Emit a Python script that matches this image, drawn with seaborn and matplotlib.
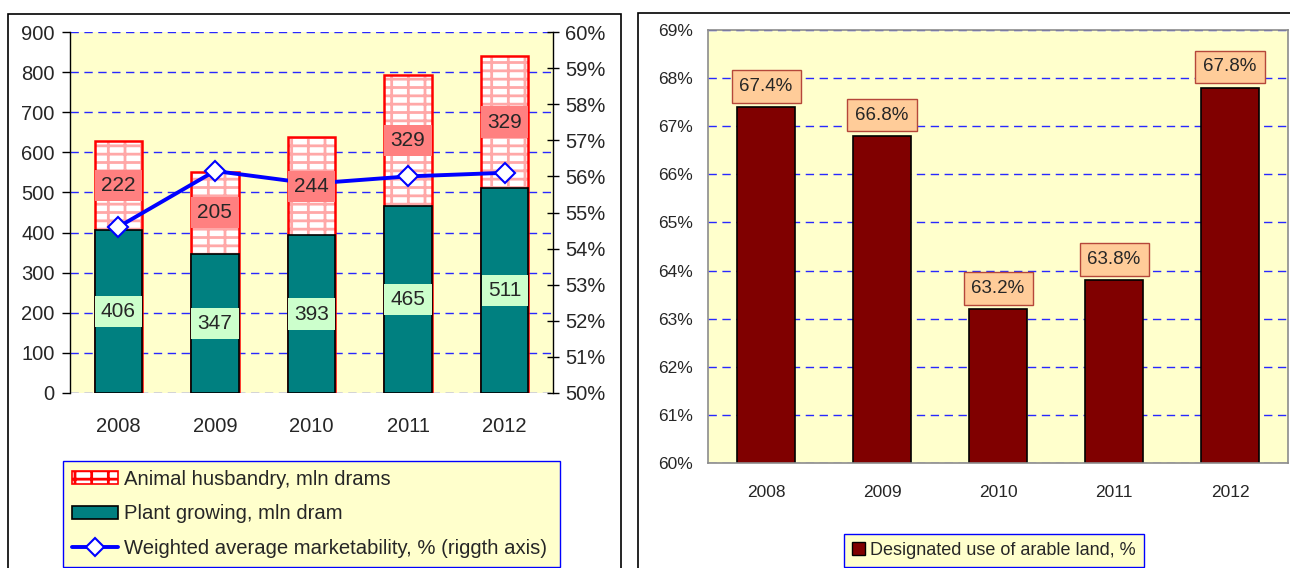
import numpy as np
import pandas as pd
import matplotlib
matplotlib.use('Agg')
import matplotlib.pyplot as plt
import seaborn as sns
from matplotlib.patches import Patch, Rectangle
from matplotlib.lines import Line2D

# ---------------- data ----------------
years = ['2008', '2009', '2010', '2011', '2012']
plant = [406, 347, 393, 465, 511]          # Plant growing, mln dram
animal = [222, 205, 244, 329, 329]         # Animal husbandry, mln drams
market = [54.6, 56.15, 55.8, 56.0, 56.1]   # Weighted average marketability, %
arable = [67.4, 66.8, 63.2, 63.8, 67.8]    # Designated use of arable land, %
left_ticks = [0, 100, 200, 300, 400, 500, 600, 700, 800, 900]
right_ticks = [50, 51, 52, 53, 54, 55, 56, 57, 58, 59, 60]
arable_ticks = [60, 61, 62, 63, 64, 65, 66, 67, 68, 69]

sns.set_theme(style='white')
plt.rcParams['font.family'] = ['Liberation Sans', 'DejaVu Sans']
plt.rcParams['hatch.linewidth'] = 2.0
plt.rcParams['hatch.color'] = '#FFA8A8'

W, H = 1290, 568
fig = plt.figure(figsize=(W / 100, H / 100), dpi=100)
fig.patch.set_facecolor('white')

# panel frames
fig.add_artist(Rectangle((8 / W, -0.02), 613 / W, (H - 14) / H + 0.02,
                         transform=fig.transFigure, fill=False, edgecolor='black', lw=1.2))
fig.add_artist(Rectangle((638 / W, -0.02), 0.7, (H - 13) / H + 0.02,
                         transform=fig.transFigure, fill=False, edgecolor='black', lw=1.2))

df = pd.DataFrame({'year': years, 'plant': plant, 'animal': animal, 'market': market})
df['total'] = df['plant'] + df['animal']

FL = 14.5   # left panel font size
FR = 12.5   # right panel font size

# ---------------- left chart ----------------
ax = fig.add_axes([70 / W, (H - 393) / H, 483 / W, 361 / H])
ax.set_facecolor('#FFFFCC')
bw = 0.49
sns.barplot(data=df, x='year', y='total', color='white', saturation=1, width=bw,
            hatch='+-', edgecolor='#FFA8A8', linewidth=0, ax=ax, zorder=2)
sns.barplot(data=df, x='year', y='total', color='#FF0000', fill=False, saturation=1,
            width=bw, linewidth=1.8, ax=ax, zorder=2)
sns.barplot(data=df, x='year', y='plant', color='#008080', saturation=1, width=bw,
            edgecolor='black', linewidth=1.2, ax=ax, zorder=3)
ax.set_ylim(0, 900)
ax.set_xlim(-0.5, len(years) - 0.5)
ax.set_yticks(left_ticks)
ax.set_yticklabels([str(t) for t in left_ticks], fontsize=FL)
ax.tick_params(axis='y', which='both', left=True, direction='out', length=6, width=1,
               color='black', pad=5)
ax.tick_params(axis='x', bottom=False, pad=11, labelsize=FL)
ax.set_xlabel('')
ax.set_ylabel('')
ax.yaxis.grid(True, color='#2828FF', linestyle=(0, (6, 4)), linewidth=1)
ax.set_axisbelow(True)
for s in ['top', 'bottom']:
    ax.spines[s].set_visible(False)
for s in ['left', 'right']:
    ax.spines[s].set_color('black')
    ax.spines[s].set_linewidth(1)

ax2 = ax.twinx()
sns.lineplot(x=np.arange(len(years)), y=market, ax=ax2, color='#0000FF', linewidth=2.8,
             marker='D', markersize=10, markerfacecolor='white', markeredgecolor='#0000FF',
             markeredgewidth=1.5, zorder=3, legend=False)
ax2.set_ylim(50, 60)
ax2.set_xlim(-0.5, len(years) - 0.5)
ax2.set_yticks(right_ticks)
ax2.set_yticklabels([f'{t}%' for t in right_ticks], fontsize=FL)
ax2.tick_params(axis='y', right=True, direction='inout', length=9, width=1,
                color='black', pad=4)
ax2.set_ylabel('')
for s in ['top', 'bottom', 'left', 'right']:
    ax2.spines[s].set_visible(False)

# value labels (drawn above the line)
for i in range(len(years)):
    ax2.text(i, animal[i] / 2 + plant[i], str(animal[i]), transform=ax.transData,
             ha='center', va='center', fontsize=15, zorder=6,
             bbox=dict(boxstyle='square,pad=0.3', facecolor='#FF8080', edgecolor='none'))
    ax2.text(i, plant[i] / 2, str(plant[i]), transform=ax.transData,
             ha='center', va='center', fontsize=15, zorder=6,
             bbox=dict(boxstyle='square,pad=0.3', facecolor='#CCFFCC', edgecolor='none'))

handles = [
    Patch(facecolor='white', edgecolor='#FF0000', hatch='+-', linewidth=1.2),
    Patch(facecolor='#008080', edgecolor='black', linewidth=1.2),
    Line2D([0], [0], color='#0000FF', linewidth=2.8, marker='D', markersize=9,
           markerfacecolor='white', markeredgecolor='#0000FF', markeredgewidth=1.5),
]
labels = ['Animal husbandry, mln drams', 'Plant growing, mln dram',
          'Weighted average marketability, % (riggth axis)']
leg = fig.legend(handles, labels, loc='lower left',
                 bbox_to_anchor=(63 / W, 1 / H, 497 / W, 105 / H), mode='expand',
                 fontsize=14.6, frameon=True, fancybox=False, handlelength=2.25,
                 handleheight=0.6, handletextpad=0.3, labelspacing=0.76,
                 borderpad=0.45, borderaxespad=0)
leg.get_frame().set_facecolor('#FFFFCC')
leg.get_frame().set_edgecolor('#0000FF')
leg.get_frame().set_linewidth(1)
leg.get_frame().set_alpha(1)

# ---------------- right chart ----------------
ax3 = fig.add_axes([708 / W, (H - 463) / H, 580 / W, 433 / H])
ax3.set_facecolor('#FFFFCC')
sns.barplot(x=years, y=arable, color='#800000', saturation=1, width=0.5,
            edgecolor='black', linewidth=1.2, ax=ax3, zorder=2)
ax3.set_ylim(60, 69)
ax3.set_xlim(-0.5, len(years) - 0.5)
ax3.set_yticks(arable_ticks)
ax3.set_yticklabels([f'{t}%' for t in arable_ticks], fontsize=FR)
ax3.tick_params(axis='y', left=False, length=0, pad=11)
ax3.tick_params(axis='x', bottom=False, pad=10, labelsize=FR)
ax3.set_xlabel('')
ax3.set_ylabel('')
ax3.yaxis.grid(True, color='#2828FF', linestyle=(0, (6, 4)), linewidth=1)
ax3.set_axisbelow(True)
for s in ax3.spines.values():
    s.set_color('#8C8C8C')
    s.set_linewidth(1.2)
for i, v in enumerate(arable):
    ax3.annotate(f'{v:.1f}%', xy=(i, v), xytext=(0, 15), textcoords='offset points',
                 ha='center', va='center', fontsize=13.5, zorder=5,
                 bbox=dict(boxstyle='square,pad=0.42', facecolor='#FFCC99',
                           edgecolor='#B5473A', linewidth=1))

leg2 = fig.legend([Patch(facecolor='#800000', edgecolor='black', linewidth=1)],
                  ['Designated use of arable land, %'], loc='lower left',
                  bbox_to_anchor=(844 / W, 1 / H), fontsize=FR + 0.5, frameon=True,
                  fancybox=False, handlelength=0.7, handleheight=0.7,
                  handletextpad=0.3, borderpad=0.45, borderaxespad=0)
leg2.get_frame().set_facecolor('#FFFFCC')
leg2.get_frame().set_edgecolor('#0000FF')
leg2.get_frame().set_linewidth(1)
leg2.get_frame().set_alpha(1)

fig.savefig('out.png', dpi=100, facecolor='white')
